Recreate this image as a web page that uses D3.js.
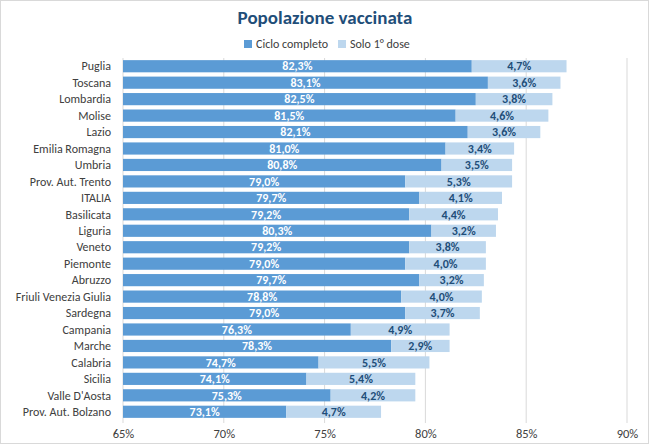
<!DOCTYPE html>
<html>
<head>
<meta charset="utf-8">
<script src="https://cdn.jsdelivr.net/npm/d3@7"></script>
<style>
  body { margin: 0; background: #fff; }
  svg text { font-family: Carlito, "Liberation Sans Narrow", Lato, sans-serif; }
</style>
</head>
<body>
<div id="chart"></div>
<script>
// data
const regions = ["Puglia", "Toscana", "Lombardia", "Molise", "Lazio", "Emilia Romagna",
  "Umbria", "Prov. Aut. Trento", "ITALIA", "Basilicata", "Liguria", "Veneto", "Piemonte",
  "Abruzzo", "Friuli Venezia Giulia", "Sardegna", "Campania", "Marche", "Calabria",
  "Sicilia", "Valle D'Aosta", "Prov. Aut. Bolzano"];
const cicloCompleto = [82.3, 83.1, 82.5, 81.5, 82.1, 81.0, 80.8, 79.0, 79.7, 79.2, 80.3,
  79.2, 79.0, 79.7, 78.8, 79.0, 76.3, 78.3, 74.7, 74.1, 75.3, 73.1];
const soloPrimaDose = [4.7, 3.6, 3.8, 4.6, 3.6, 3.4, 3.5, 5.3, 4.1, 4.4, 3.2, 3.8, 4.0,
  3.2, 4.0, 3.7, 4.9, 2.9, 5.5, 5.4, 4.2, 4.7];
const xTicks = [65, 70, 75, 80, 85, 90];
const seriesNames = ["Ciclo completo", "Solo 1° dose"];

const W = 650, H = 445;
const darkBlue = "#5b9bd5", lightBlue = "#bdd7ee", titleBlue = "#1f4e79";

const svg = d3.select("#chart").append("svg")
  .attr("width", W).attr("height", H);

// outer frame
svg.append("rect")
  .attr("x", 0.5).attr("y", 0.5)
  .attr("width", W - 2).attr("height", H - 2)
  .attr("fill", "#fff").attr("stroke", "#d9d9d9");

const x = d3.scaleLinear().domain([65, 90]).range([123, 627]);
const y = d3.scaleBand().domain(regions).range([58, 420]).paddingInner(0.26).paddingOuter(0.13);

// gridlines
svg.append("g").selectAll("line")
  .data(xTicks)
  .join("line")
  .attr("x1", d => x(d)).attr("x2", d => x(d))
  .attr("y1", 58).attr("y2", 423)
  .attr("stroke", "#d9d9d9").attr("stroke-width", 1);

// x axis labels
const fmt = d => d + "%";
svg.append("g")
  .attr("transform", "translate(0,421)")
  .call(d3.axisBottom(x).tickValues(xTicks).tickFormat(fmt).tickSize(0).tickPadding(8))
  .call(g => g.select(".domain").remove())
  .call(g => g.selectAll("text").attr("font-size", 12.5).attr("fill", "#404040")
    .style("font-family", 'Carlito, "Liberation Sans Narrow", Lato, sans-serif'));

// category labels
svg.append("g").selectAll("text")
  .data(regions)
  .join("text")
  .attr("x", 111)
  .attr("y", d => y(d) + y.bandwidth() / 2)
  .attr("dy", "0.35em")
  .attr("text-anchor", "end")
  .attr("font-size", 12)
  .attr("fill", "#404040")
  .text(d => d);

const rows = regions.map((r, i) => ({ r, a: cicloCompleto[i], b: soloPrimaDose[i] }));
const pct = v => v.toFixed(1).replace(".", ",") + "%";

// dark bars
svg.append("g").selectAll("rect")
  .data(rows)
  .join("rect")
  .attr("x", x(65))
  .attr("y", d => y(d.r))
  .attr("width", d => x(d.a) - x(65))
  .attr("height", y.bandwidth())
  .attr("fill", darkBlue);

// light bars
svg.append("g").selectAll("rect")
  .data(rows)
  .join("rect")
  .attr("x", d => x(d.a))
  .attr("y", d => y(d.r))
  .attr("width", d => x(d.a + d.b) - x(d.a))
  .attr("height", y.bandwidth())
  .attr("fill", lightBlue);

// labels
svg.append("g").selectAll("text")
  .data(rows)
  .join("text")
  .attr("x", d => (x(65) + x(d.a)) / 2)
  .attr("y", d => y(d.r) + y.bandwidth() / 2)
  .attr("dy", "0.35em")
  .attr("text-anchor", "middle")
  .attr("font-size", 12)
  .attr("font-weight", "bold")
  .attr("fill", "#fff")
  .text(d => pct(d.a));

svg.append("g").selectAll("text")
  .data(rows)
  .join("text")
  .attr("x", d => (x(d.a) + x(d.a + d.b)) / 2)
  .attr("y", d => y(d.r) + y.bandwidth() / 2)
  .attr("dy", "0.35em")
  .attr("text-anchor", "middle")
  .attr("font-size", 12)
  .attr("font-weight", "bold")
  .attr("fill", titleBlue)
  .text(d => pct(d.b));

// title
svg.append("text")
  .attr("x", 325).attr("y", 24)
  .attr("text-anchor", "middle")
  .attr("font-size", 19)
  .attr("font-weight", "bold")
  .attr("fill", titleBlue)
  .text("Popolazione vaccinata");

// legend
const legend = svg.append("g");
const legendX = [244, 338];
const legendColors = [darkBlue, lightBlue];
seriesNames.forEach((name, i) => {
  legend.append("rect")
    .attr("x", legendX[i]).attr("y", 40)
    .attr("width", 8).attr("height", 8)
    .attr("fill", legendColors[i]);
  legend.append("text")
    .attr("x", legendX[i] + 12).attr("y", 44)
    .attr("dy", "0.35em")
    .attr("font-size", 12)
    .attr("fill", "#404040")
    .text(name);
});
</script>
</body>
</html>
